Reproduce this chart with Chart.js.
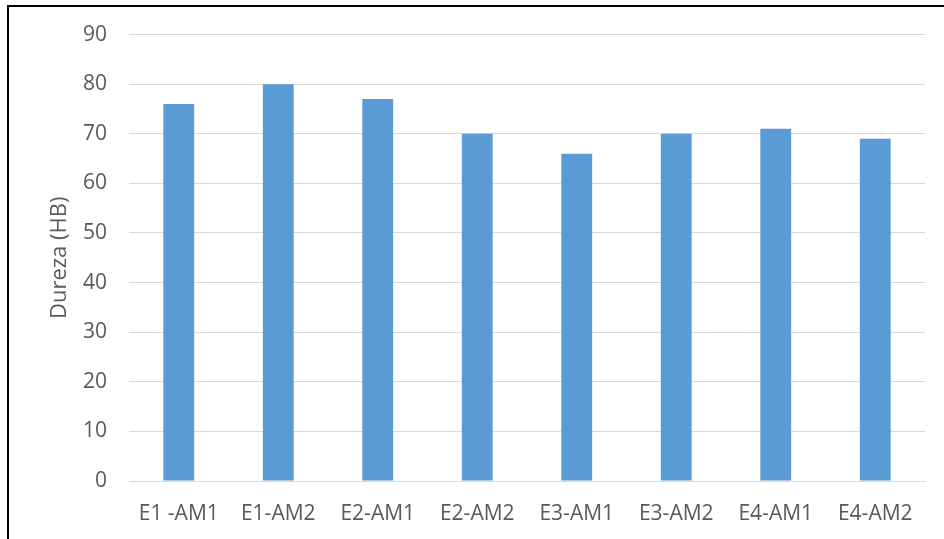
<!DOCTYPE html>
<html lang="pt">
<head>
  <meta charset="UTF-8">
  <title>Dureza (HB)</title>
  <script src="https://cdn.jsdelivr.net/npm/chart.js@4/dist/chart.umd.min.js"></script>
  <style>
    html, body { margin: 0; padding: 0; background: #fff; }
    .frame {
      position: absolute;
      left: 0; top: 0;
      width: 944px; height: 539px;
    }
    .edge {
      position: absolute;
      left: 7px; top: 5px;
      width: 937px; height: 534px;
      border-left: 2px solid #000;
      border-top: 2px solid #000;
      box-sizing: border-box;
      pointer-events: none;
    }
  </style>
</head>
<body>
<div class="frame">
  <canvas id="durezaChart" width="944" height="539"></canvas>
  <div class="edge"></div>
</div>

<script>
  // amostras e valores de dureza
  const amostras = ['E1 -AM1', 'E1-AM2', 'E2-AM1', 'E2-AM2', 'E3-AM1', 'E3-AM2', 'E4-AM1', 'E4-AM2'];
  const dureza = [76, 80, 77, 70, 66, 70, 71, 69];
  const ticksY = [0, 10, 20, 30, 40, 50, 60, 70, 80, 90];

  const textColor = '#595959';
  const gridColor = '#d9d9d9';

  const ctx = document.getElementById('durezaChart').getContext('2d');
  new Chart(ctx, {
    type: 'bar',
    data: {
      labels: amostras,
      datasets: [{
        data: dureza,
        backgroundColor: '#5b9bd5',
        borderWidth: 0,
        barPercentage: 0.31,
        categoryPercentage: 1
      }]
    },
    options: {
      responsive: false,
      animation: false,
      layout: { padding: { left: 0, right: 19, top: 34, bottom: 0 } },
      plugins: {
        legend: { display: false },
        tooltip: { enabled: false }
      },
      scales: {
        x: {
          grid: { display: false, drawTicks: false },
          border: { display: true, color: gridColor, width: 1 },
          ticks: {
            color: textColor,
            font: { family: 'Open Sans', size: 21 },
            padding: 20,
            maxRotation: 0,
            autoSkip: false
          },
          afterFit: scale => { scale.height = 58; }
        },
        y: {
          min: 0,
          max: 90,
          afterBuildTicks: scale => { scale.ticks = ticksY.map(v => ({ value: v })); },
          grid: { color: gridColor, lineWidth: 1, drawTicks: false },
          border: { display: false },
          ticks: {
            color: textColor,
            font: { family: 'Open Sans', size: 21 },
            padding: 22
          },
          title: {
            display: true,
            text: 'Dureza (HB)',
            color: textColor,
            font: { family: 'Open Sans', size: 22 },
            padding: { top: 47, bottom: 0 }
          },
          afterFit: scale => { scale.width = 129; }
        }
      }
    }
  });
</script>
</body>
</html>
